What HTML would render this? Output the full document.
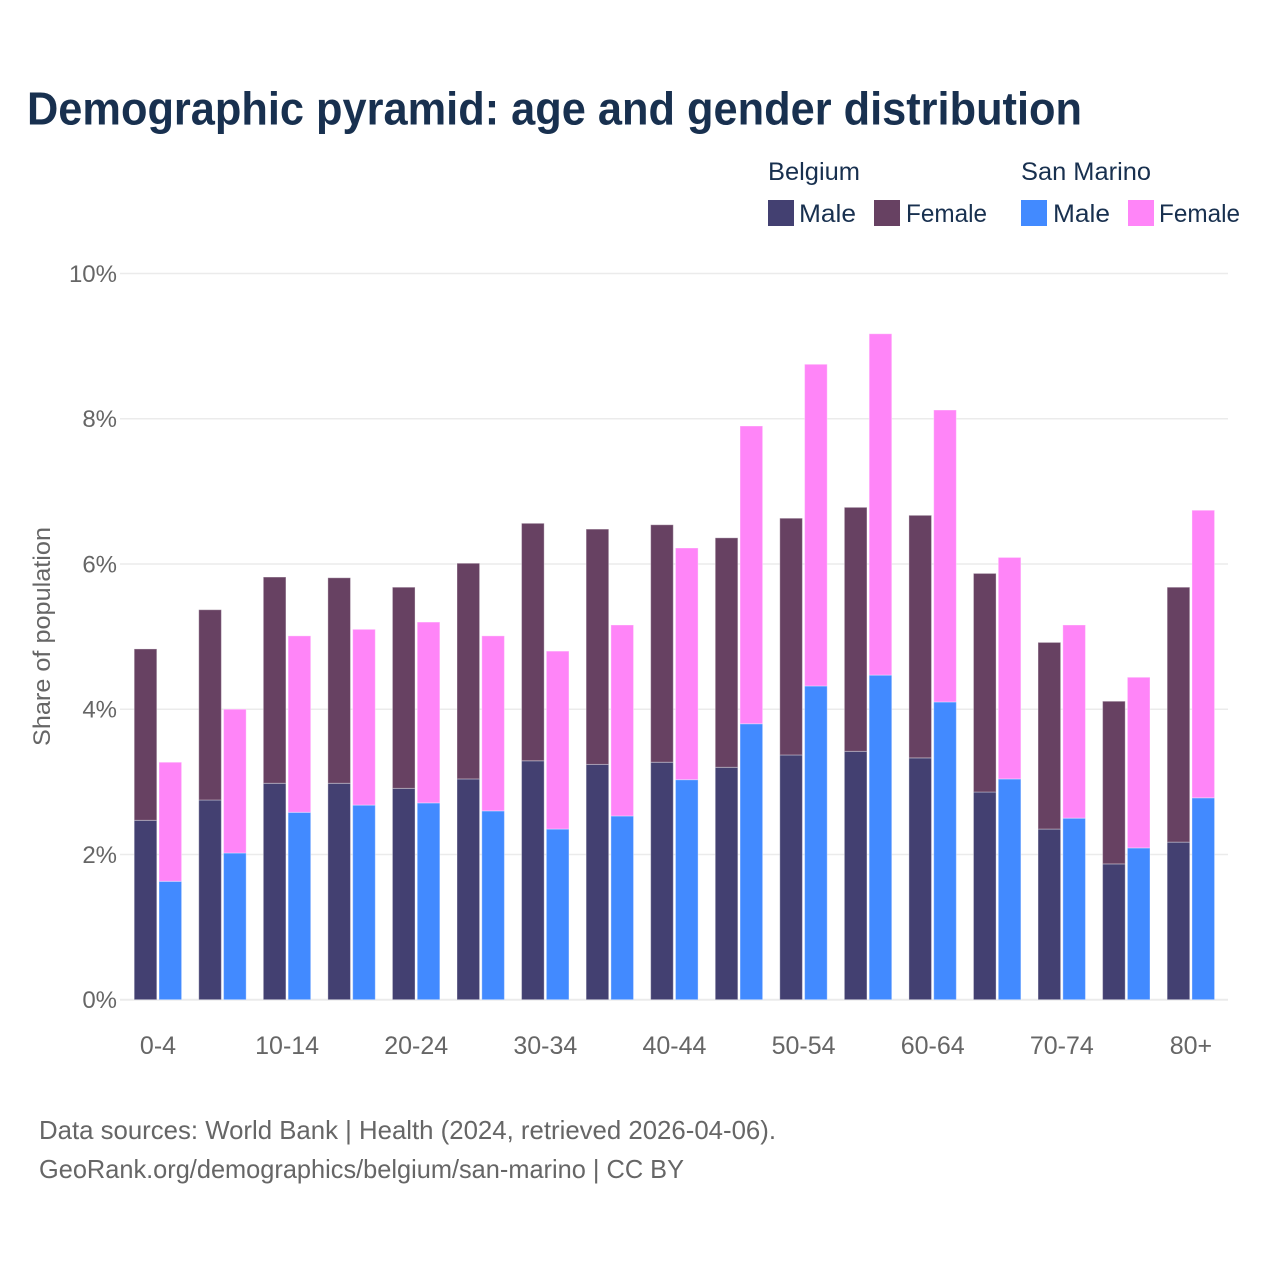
<!DOCTYPE html>
<html lang="en">
<head>
<meta charset="utf-8">
<title>Demographic pyramid: age and gender distribution</title>
<style>
html,body{margin:0;padding:0;background:#fff;width:1280px;height:1280px;overflow:hidden}
svg{display:block}
text{font-family:"Liberation Sans",sans-serif}
.ink{fill:#18304f;font-size:25px}
.grey{fill:#666;font-size:24px}
.foot{fill:#666;font-size:26px}
</style>
</head>
<body>
<svg id="chart" xmlns="http://www.w3.org/2000/svg" width="1280" height="1280" viewBox="0 0 1280 1280">
  <rect x="0" y="0" width="1280" height="1280" fill="#fff"/>
  <text x="27" y="124.5" font-size="46" font-weight="700" fill="#18304f" textLength="1055" lengthAdjust="spacingAndGlyphs">Demographic pyramid: age and gender distribution</text>

  <g>
    <text class="ink" x="768" y="180" textLength="92" lengthAdjust="spacingAndGlyphs">Belgium</text>
    <text class="ink" x="1021" y="180" textLength="130" lengthAdjust="spacingAndGlyphs">San Marino</text>
    <rect x="768" y="200" width="26" height="26" fill="#434071"/>
    <text class="ink" x="799" y="222" textLength="57" lengthAdjust="spacingAndGlyphs">Male</text>
    <rect x="874" y="200" width="26" height="26" fill="#674162"/>
    <text class="ink" x="906" y="222" textLength="81" lengthAdjust="spacingAndGlyphs">Female</text>
    <rect x="1021" y="200" width="26" height="26" fill="#428aff"/>
    <text class="ink" x="1053" y="222" textLength="57" lengthAdjust="spacingAndGlyphs">Male</text>
    <rect x="1128" y="200" width="26" height="26" fill="#ff85f8"/>
    <text class="ink" x="1159" y="222" textLength="81" lengthAdjust="spacingAndGlyphs">Female</text>
  </g>

  <g id="grid"></g>
  <g id="yticks"></g>
  <g id="bars"></g>
  <g id="xticks"></g>

  <text class="grey" transform="translate(50,746) rotate(-90)" x="0" y="0" textLength="219" lengthAdjust="spacingAndGlyphs">Share of population</text>

  <text class="foot" x="39" y="1139" textLength="737" lengthAdjust="spacingAndGlyphs">Data sources: World Bank | Health (2024, retrieved 2026-04-06).</text>
  <text class="foot" x="39" y="1178" textLength="645" lengthAdjust="spacingAndGlyphs">GeoRank.org/demographics/belgium/san-marino | CC BY</text>
</svg>
<script>
const categories = ['0-4','5-9','10-14','15-19','20-24','25-29','30-34','35-39','40-44','45-49','50-54','55-59','60-64','65-69','70-74','75-79','80+'];
const belgiumMale = [2.47,2.75,2.98,2.98,2.91,3.04,3.29,3.24,3.27,3.20,3.37,3.42,3.33,2.86,2.35,1.87,2.17];
const belgiumFemale = [2.36,2.62,2.84,2.83,2.77,2.97,3.27,3.24,3.27,3.16,3.26,3.36,3.34,3.01,2.57,2.24,3.51];
const sanMarinoMale = [1.63,2.02,2.58,2.68,2.71,2.60,2.35,2.53,3.03,3.80,4.32,4.47,4.10,3.04,2.50,2.09,2.78];
const sanMarinoFemale = [1.64,1.98,2.43,2.42,2.49,2.41,2.45,2.63,3.19,4.10,4.43,4.70,4.02,3.05,2.66,2.35,3.96];
const yTickValues = [0,2,4,6,8,10];
const xLabelEvery = 2;

const NS = 'http://www.w3.org/2000/svg';
const yAxis = function (v) { return 999.7 - v * 72.62; };
const xAxis = function (i) { return 158 + i * 64.56; };
const BAR_W = 22.6;

function make(tag, parent, attrs, content) {
  const el = document.createElementNS(NS, tag);
  Object.keys(attrs).forEach(function (k) { el.setAttribute(k, attrs[k]); });
  if (content !== undefined) el.textContent = content;
  parent.appendChild(el);
  return el;
}

const gridG = document.getElementById('grid');
const yG = document.getElementById('yticks');
const barsG = document.getElementById('bars');
const xG = document.getElementById('xticks');

yTickValues.forEach(function (v) {
  const line = make('line', gridG, {x1: 120, x2: 1228, y1: yAxis(v), y2: yAxis(v), stroke: '#ebebeb', 'stroke-width': v === 0 ? 2 : 1.5});
  
  
  const label = make('text', yG, {x: 117, y: yAxis(v) + 8.5, 'text-anchor': 'end', class: 'grey'}, v + '%');
  
  
});

function drawBar(x, base, value, color, name) {
  const top = yAxis(base + value);
  const bar = make('rect', barsG, {x: x, y: top, width: BAR_W, height: yAxis(base) - top, fill: color, stroke: '#fff', 'stroke-opacity': 0.35, 'stroke-width': 1});
  
  
}

categories.forEach(function (cat, i) {
  const cx = xAxis(i);
  drawBar(cx - 23.8, 0, belgiumMale[i], '#434071', 'bar-belgium-male-' + cat);
  drawBar(cx - 23.8, belgiumMale[i], belgiumFemale[i], '#674162', 'bar-belgium-female-' + cat);
  drawBar(cx + 1, 0, sanMarinoMale[i], '#428aff', 'bar-san-marino-male-' + cat);
  drawBar(cx + 1, sanMarinoMale[i], sanMarinoFemale[i], '#ff85f8', 'bar-san-marino-female-' + cat);
  if (i % xLabelEvery === 0) {
    const label = make('text', xG, {x: cx, y: 1054, 'text-anchor': 'middle', class: 'grey', style: 'font-size:25px'}, cat);
    
    
  }
});
</script>
</body>
</html>
